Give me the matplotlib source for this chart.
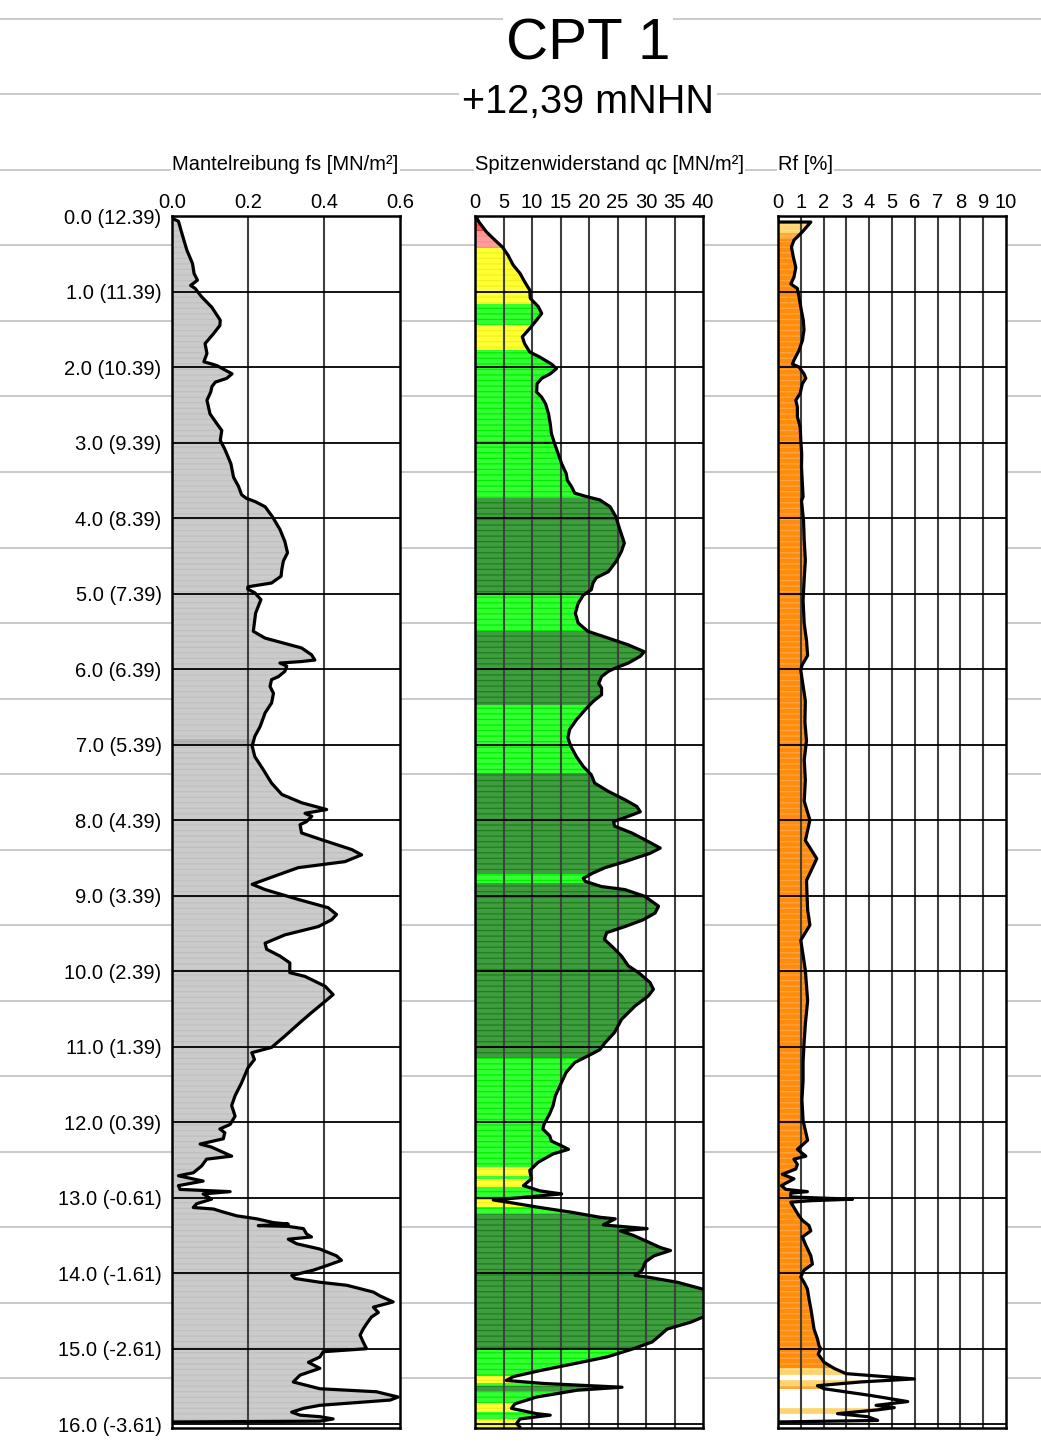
import numpy as np
import matplotlib
matplotlib.use("Agg")
import matplotlib.pyplot as plt
from matplotlib.patches import Polygon

plt.rcParams['font.family'] = ['Liberation Sans', 'DejaVu Sans']
plt.rcParams['hatch.linewidth'] = 0.9

# ---------------------------------------------------------------- data
ground_level = 12.39          # mNHN
depth_ticks = list(range(0, 17))

# Mantelreibung fs [MN/m²]
fs_depth = [0.00, 0.04, 0.07, 0.23, 0.45, 0.63, 0.76, 0.85, 0.92, 0.96,
            1.07, 1.21, 1.38, 1.45, 1.56, 1.69, 1.82, 1.93, 1.98,
            2.09, 2.15, 2.20, 2.26, 2.33, 2.44, 2.62, 2.75, 2.84, 2.97,
            3.10, 3.28, 3.46, 3.58, 3.69, 3.74, 3.78, 3.85, 3.98,
            4.15, 4.31, 4.46, 4.57, 4.68, 4.77, 4.86, 4.91, 4.94, 4.99,
            5.08, 5.26, 5.50, 5.59, 5.66, 5.72, 5.81, 5.88, 5.90, 5.92, 5.96,
            6.03, 6.10, 6.14, 6.23, 6.32, 6.45, 6.58, 6.76, 6.89,
            7.02, 7.16, 7.33, 7.51, 7.66, 7.77, 7.86, 7.91, 7.95,
            8.02, 8.06, 8.17, 8.26, 8.39, 8.46, 8.55, 8.63, 8.74, 8.85, 8.92,
            9.05, 9.16, 9.25, 9.32, 9.41, 9.52, 9.63, 9.71, 9.80, 9.89,
            10.02, 10.07, 10.20, 10.31, 10.40, 10.55, 10.68, 10.86,
            11.01, 11.08, 11.17, 11.28, 11.48, 11.65, 11.78, 11.92,
            12.03, 12.09, 12.14, 12.22, 12.29, 12.33, 12.38, 12.45, 12.49, 12.58,
            12.67, 12.71, 12.78, 12.84, 12.89, 12.92, 12.95,
            13.02, 13.08, 13.13, 13.15, 13.19, 13.24, 13.28, 13.33, 13.35, 13.37,
            13.38, 13.41, 13.48, 13.52, 13.55, 13.61, 13.68, 13.77, 13.83, 13.90, 13.96,
            14.03, 14.07, 14.12, 14.16, 14.25, 14.30, 14.38, 14.45, 14.52, 14.58,
            14.67, 14.74, 14.82, 14.91,
            15.00, 15.04, 15.11, 15.18, 15.26, 15.35, 15.44, 15.53, 15.57, 15.64,
            15.68, 15.75, 15.79, 15.84, 15.88, 15.90, 15.93, 15.96, 15.97]
fs_value = [0.000, 0.004, 0.017, 0.026, 0.039, 0.054, 0.058, 0.067, 0.049, 0.061,
            0.078, 0.105, 0.127, 0.126, 0.109, 0.087, 0.092, 0.084, 0.118,
            0.158, 0.144, 0.114, 0.105, 0.102, 0.092, 0.100, 0.118, 0.131, 0.127,
            0.140, 0.155, 0.162, 0.175, 0.183, 0.196, 0.218, 0.245, 0.264,
            0.284, 0.297, 0.304, 0.293, 0.289, 0.287, 0.262, 0.200, 0.199, 0.218,
            0.234, 0.220, 0.214, 0.245, 0.297, 0.341, 0.367, 0.376, 0.341, 0.284, 0.302,
            0.297, 0.280, 0.262, 0.258, 0.267, 0.262, 0.245, 0.232, 0.218,
            0.211, 0.218, 0.240, 0.262, 0.289, 0.341, 0.407, 0.350, 0.368,
            0.354, 0.337, 0.341, 0.394, 0.473, 0.499, 0.455, 0.332, 0.271, 0.211, 0.245,
            0.332, 0.411, 0.433, 0.420, 0.385, 0.297, 0.245, 0.249, 0.284, 0.310,
            0.310, 0.350, 0.403, 0.424, 0.403, 0.367, 0.337, 0.297,
            0.262, 0.210, 0.217, 0.200, 0.183, 0.166, 0.157, 0.166,
            0.153, 0.126, 0.139, 0.135, 0.074, 0.104, 0.126, 0.157, 0.091, 0.078,
            0.056, 0.017, 0.082, 0.017, 0.021, 0.153, 0.082,
            0.104, 0.065, 0.056, 0.109, 0.135, 0.170, 0.223, 0.267, 0.306, 0.227,
            0.306, 0.346, 0.354, 0.367, 0.306, 0.328, 0.389, 0.433, 0.446, 0.407, 0.372,
            0.315, 0.324, 0.389, 0.460, 0.530, 0.547, 0.582, 0.530, 0.543, 0.525,
            0.512, 0.503, 0.495, 0.503,
            0.512, 0.398, 0.389, 0.359, 0.389, 0.337, 0.319, 0.389, 0.538, 0.595,
            0.574, 0.389, 0.346, 0.315, 0.337, 0.389, 0.424, 0.389, 0.000]

# Spitzenwiderstand qc [MN/m²]
qc_depth = [0.00, 0.01, 0.08, 0.21, 0.32, 0.41, 0.52, 0.65, 0.76, 0.87, 0.98,
            1.09, 1.20, 1.29, 1.38, 1.49, 1.60, 1.69, 1.80, 1.87, 1.96,
            2.02, 2.09, 2.15, 2.22, 2.33, 2.40, 2.49, 2.62, 2.75, 2.88,
            3.02, 3.15, 3.28, 3.41, 3.50, 3.58, 3.67, 3.71, 3.76, 3.85, 3.98,
            4.15, 4.33, 4.44, 4.57, 4.71, 4.79, 4.86, 4.95,
            5.02, 5.13, 5.26, 5.39, 5.50, 5.59, 5.68, 5.77, 5.83, 5.92, 5.99,
            6.03, 6.10, 6.19, 6.25, 6.34, 6.43, 6.54, 6.67, 6.80, 6.91,
            7.02, 7.16, 7.29, 7.40, 7.51, 7.62, 7.73, 7.82, 7.89, 7.95,
            8.02, 8.08, 8.17, 8.26, 8.37, 8.44, 8.55, 8.63, 8.70, 8.77, 8.81, 8.88, 8.92,
            9.01, 9.14, 9.23, 9.32, 9.41, 9.49, 9.58, 9.67, 9.80, 9.93,
            10.02, 10.15, 10.24, 10.33, 10.46, 10.64, 10.81, 10.95,
            11.04, 11.10, 11.21, 11.34, 11.52, 11.65, 11.78, 11.89,
            12.03, 12.09, 12.18, 12.25, 12.31, 12.36, 12.42, 12.53, 12.64, 12.75,
            12.84, 12.91, 12.95, 13.00,
            13.03, 13.06, 13.13, 13.19, 13.26, 13.28, 13.36, 13.41, 13.44, 13.50,
            13.57, 13.66, 13.70, 13.77, 13.85, 13.96,
            14.03, 14.05, 14.12, 14.21, 14.30, 14.42, 14.55, 14.65, 14.74, 14.82, 14.91,
            15.00, 15.11, 15.20, 15.29, 15.37, 15.42, 15.46, 15.51, 15.55, 15.64,
            15.73, 15.79, 15.86, 15.88, 15.93, 15.99, 16.04]
qc_value = [0.0, 0.2, 0.7, 2.0, 3.5, 4.8, 5.8, 6.7, 7.9, 8.7, 9.6,
            9.7, 11.1, 11.7, 10.8, 9.6, 8.3, 8.7, 9.6, 11.4, 13.4,
            14.3, 13.2, 11.7, 10.9, 10.8, 11.7, 12.4, 12.9, 13.2, 13.4,
            14.0, 14.6, 15.2, 16.0, 16.2, 16.9, 17.5, 19.3, 21.9, 23.7, 24.7,
            25.4, 26.2, 25.7, 24.8, 23.4, 21.3, 20.7, 20.4,
            19.0, 18.1, 17.6, 18.1, 19.8, 23.4, 26.9, 29.7, 29.0, 26.9, 24.5,
            23.4, 22.2, 21.7, 22.2, 22.2, 20.7, 19.3, 17.8, 16.6, 16.3,
            16.8, 17.8, 19.0, 20.4, 21.0, 23.4, 26.3, 28.4, 29.0, 26.9,
            24.3, 24.5, 27.5, 29.8, 32.5, 30.7, 26.3, 22.8, 20.7, 19.0, 19.3, 22.2, 26.3,
            29.8, 32.2, 31.6, 29.5, 26.3, 23.1, 22.7, 24.0, 25.7, 26.9,
            28.7, 30.7, 31.3, 30.4, 28.1, 25.7, 24.5, 22.8,
            21.9, 20.4, 17.5, 16.0, 14.9, 14.1, 13.7, 13.1,
            12.1, 11.9, 13.1, 13.4, 15.1, 16.4, 13.7, 11.1, 9.6, 9.9,
            8.5, 11.4, 15.2, 7.9,
            3.2, 5.8, 11.4, 16.7, 22.0, 24.6, 22.5, 30.2, 25.5, 27.8,
            29.9, 32.5, 34.3, 31.4, 29.9, 29.3,
            28.1, 30.2, 35.5, 39.9, 42.0, 42.5, 41.0, 37.8, 33.7, 32.5, 31.1,
            27.8, 23.1, 17.3, 11.4, 6.7, 5.5, 12.0, 25.8, 17.9, 10.8,
            7.0, 6.4, 10.8, 13.2, 7.9, 7.3, 7.9]

# Reibungsverhältnis Rf [%]
rf_depth = [0.00, 0.08, 0.08, 0.21, 0.32, 0.41, 0.54, 0.68, 0.81, 0.90, 0.96,
            1.07, 1.21, 1.38, 1.51, 1.65, 1.78, 1.91, 1.96,
            2.00, 2.09, 2.15, 2.22, 2.35, 2.44, 2.53, 2.66, 2.79, 2.97,
            3.15, 3.32, 3.55, 3.72, 3.77,
            4.03, 4.30, 4.56, 4.80,
            5.09, 5.40, 5.62, 5.82, 5.95,
            6.02, 6.42, 6.70, 6.95,
            7.20, 7.47, 7.75, 8.00,
            8.27, 8.51, 8.80,
            9.19, 9.39, 9.59, 9.99,
            10.39, 10.70, 10.92,
            11.20, 11.45, 11.70, 11.98,
            12.24, 12.36, 12.45, 12.49, 12.56, 12.62, 12.69, 12.75, 12.84, 12.89,
            12.92, 12.94, 12.99,
            13.02, 13.04, 13.06, 13.13, 13.24, 13.30, 13.37, 13.44, 13.52, 13.63,
            13.77, 13.88, 13.96,
            14.05, 14.12, 14.21, 14.34, 14.47, 14.60, 14.74, 14.87, 14.96,
            15.00, 15.07, 15.18, 15.26, 15.33, 15.40, 15.44, 15.49, 15.53, 15.62,
            15.70, 15.75, 15.78, 15.81, 15.86, 15.90, 15.95, 15.97]
rf_value = [0.00, 0.00, 1.44, 1.07, 0.70, 0.59, 0.67, 0.78, 0.70, 0.56, 0.85,
            0.92, 1.00, 1.11, 1.14, 1.07, 0.92, 0.70, 0.63,
            0.92, 1.14, 1.22, 1.07, 0.97, 0.78, 0.85, 0.85, 0.97, 1.00,
            1.04, 1.03, 1.07, 1.10, 1.03,
            1.12, 1.15, 1.20, 1.15,
            1.10, 1.15, 1.25, 1.30, 1.05,
            1.00, 1.20, 1.18, 1.25,
            1.15, 1.20, 1.15, 1.40,
            1.20, 1.70, 1.25,
            1.30, 1.40, 1.00, 1.20,
            1.30, 1.20, 1.15,
            1.10, 1.10, 1.05, 1.10,
            1.30, 0.85, 1.22, 0.70, 0.85, 0.78, 0.19, 0.70, 0.15, 0.34,
            1.29, 0.56, 0.56,
            3.27, 1.44, 0.56, 0.70, 0.92, 1.07, 1.36, 1.44, 1.07, 1.22,
            1.44, 1.51, 1.14,
            1.00, 1.14, 1.29, 1.36, 1.44, 1.51, 1.58, 1.73, 1.80,
            1.88, 1.76, 2.02, 2.46, 2.98, 5.98, 3.64, 1.73, 2.02, 4.08,
            5.69, 4.30, 5.10, 4.37, 2.61, 3.93, 4.37, 0.00]

# soil-type colour bands (top, bottom, class)
qc_layer_top = [0.00, 0.20, 0.43, 1.16, 1.45, 1.78, 3.74, 4.99, 5.50, 6.47, 7.38,
                8.72, 8.83, 11.15, 12.60, 12.71, 12.75, 12.86, 13.00, 13.03, 13.12,
                13.22, 15.00, 15.36, 15.45, 15.50, 15.56, 15.72, 15.84, 15.93]
qc_layer_bot = [0.20, 0.43, 1.16, 1.45, 1.78, 3.74, 4.99, 5.50, 6.47, 7.38, 8.72,
                8.83, 11.15, 12.60, 12.71, 12.75, 12.86, 13.00, 13.03, 13.12, 13.22,
                15.00, 15.36, 15.45, 15.50, 15.56, 15.72, 15.84, 15.93, 16.05]
qc_layer_cls = ['red', 'pink', 'yellow', 'light', 'yellow', 'light', 'dark', 'light',
                'dark', 'light', 'dark', 'light', 'dark', 'light', 'yellow', 'light',
                'yellow', 'light', 'pink', 'yellow', 'light', 'dark', 'light', 'yellow',
                'light', 'dark', 'light', 'yellow', 'light', 'yellow']

rf_layer_top = [0.08, 0.22, 0.30, 12.99, 13.02, 15.26, 15.35, 15.42, 15.49, 15.53, 15.78, 15.86]
rf_layer_bot = [0.22, 0.30, 12.99, 13.02, 15.26, 15.35, 15.42, 15.49, 15.53, 15.78, 15.86, 16.05]
rf_layer_cls = ['pale', 'mid', 'orange', 'pale', 'orange', 'pale', 'none', 'pale',
                'mid', 'none', 'pale', 'none']

fs_layer_top = [0.00, 6.93, 7.00]
fs_layer_bot = [6.93, 7.00, 16.05]
fs_layer_cls = ['grey', 'greydark', 'grey']

# fill / streak colours per class
FILL = {'red': ('#ff5a5a', '#ff3a3a'), 'pink': ('#ff9c9c', '#ff8a8a'),
        'yellow': ('#ffff33', '#f2f21a'), 'light': ('#33ff33', '#00f000'),
        'dark': ('#3f9d3f', '#1b801b'), 'orange': ('#ff8c0a', '#ffa545'),
        'mid': ('#ffa83a', '#ffb855'), 'pale': ('#ffd36e', '#ffdc88'),
        'none': ('#ffffff', '#ffffff'), 'grey': ('#cbcbcb', '#c0c0c0'),
        'greydark': ('#b6b6b6', '#acacac')}

# ---------------------------------------------------------------- layout
W, H, DPI = 1041, 1444, 100
TOP_PX, BOT_PX = 216.0, 1428.0
D_MAX = 16.05
PX_PER_M = (BOT_PX - TOP_PX) / D_MAX
PANEL_LEFT = [172, 475, 778]
PANEL_W = 228
LABEL_SIZE = 14.5

fig = plt.figure(figsize=(W / DPI, H / DPI), dpi=DPI)
fig.patch.set_facecolor('white')

# elevation lines (whole metres NHN) running across the sheet
bg = fig.add_axes([0, 0, 1, 1], zorder=0)
bg.set_xlim(0, 1)
bg.set_ylim((H - TOP_PX) / PX_PER_M, -TOP_PX / PX_PER_M)
bg.axis('off')
for elev in range(-4, 17):
    bg.axhline(ground_level - elev, color='#c9c9c9', lw=1.4, zorder=0)

fig.text(588 / W, 1 - 44 / H, 'CPT 1', fontsize=42, ha='center', va='center',
         bbox=dict(facecolor='white', edgecolor='none', pad=2), zorder=5)
fig.text(588 / W, 1 - 102 / H, '+12,39 mNHN', fontsize=28.5, ha='center', va='center',
         bbox=dict(facecolor='white', edgecolor='none', pad=2), zorder=5)


def draw_panel(x0, depth, value, xmax, xticks, xticklabels, title,
               tops, bots, classes):
    ax = fig.add_axes([x0 / W, 1 - BOT_PX / H, PANEL_W / W, (BOT_PX - TOP_PX) / H],
                      zorder=2)
    ax.set_facecolor('white')
    ax.set_xlim(0, xmax)
    ax.set_ylim(D_MAX, 0)

    depth = np.asarray(depth, float)
    value = np.asarray(value, float)
    verts = np.column_stack([np.r_[0.0, value, 0.0],
                             np.r_[depth[0], depth, depth[-1]]])
    outline = Polygon(verts, closed=True, facecolor='none', edgecolor='none')
    ax.add_patch(outline)
    for t, b, c in zip(tops, bots, classes):
        face, streak = FILL[c]
        band = ax.axhspan(t, b, facecolor=face, edgecolor=streak, linewidth=0,
                          hatch='---', zorder=1)
        band.set_clip_path(outline)

    for xv in xticks[1:-1]:
        ax.axvline(xv, color='#404040', lw=1.5, zorder=2)
    for d in depth_ticks:
        ax.axhline(d, color='black', lw=1.3, zorder=2)

    ax.plot(value, depth, color='black', lw=2.3, zorder=4,
            solid_joinstyle='round', solid_capstyle='round')

    ax.xaxis.tick_top()
    ax.set_xticks(xticks)
    ax.set_xticklabels(xticklabels)
    ax.tick_params(axis='x', length=0, pad=3, labelsize=LABEL_SIZE)
    ax.set_yticks(depth_ticks)
    ax.tick_params(axis='y', length=0)
    ax.set_yticklabels([])
    for s in ax.spines.values():
        s.set_linewidth(1.8)
        s.set_color('black')
        s.set_zorder(5)

    ax.text(0, (BOT_PX - 165) / (BOT_PX - TOP_PX), title, transform=ax.transAxes,
            ha='left', va='center', fontsize=LABEL_SIZE, clip_on=False,
            bbox=dict(facecolor='white', edgecolor='none', pad=1))
    return ax


ax_fs = draw_panel(PANEL_LEFT[0], fs_depth, fs_value, 0.6,
                   [0.0, 0.2, 0.4, 0.6], ['0.0', '0.2', '0.4', '0.6'],
                   'Mantelreibung fs [MN/m²]', fs_layer_top, fs_layer_bot, fs_layer_cls)
ax_qc = draw_panel(PANEL_LEFT[1], qc_depth, qc_value, 40,
                   list(range(0, 41, 5)), [str(v) for v in range(0, 41, 5)],
                   'Spitzenwiderstand qc [MN/m²]', qc_layer_top, qc_layer_bot, qc_layer_cls)
ax_rf = draw_panel(PANEL_LEFT[2], rf_depth, rf_value, 10,
                   list(range(0, 11)), [str(v) for v in range(0, 11)],
                   'Rf [%]', rf_layer_top, rf_layer_bot, rf_layer_cls)

ax_fs.set_yticklabels([f'{d:.1f} ({ground_level - d:.2f})' for d in depth_ticks])
ax_fs.tick_params(axis='y', labelsize=LABEL_SIZE, pad=7.5)

fig.savefig('out.png', dpi=DPI, facecolor='white')
